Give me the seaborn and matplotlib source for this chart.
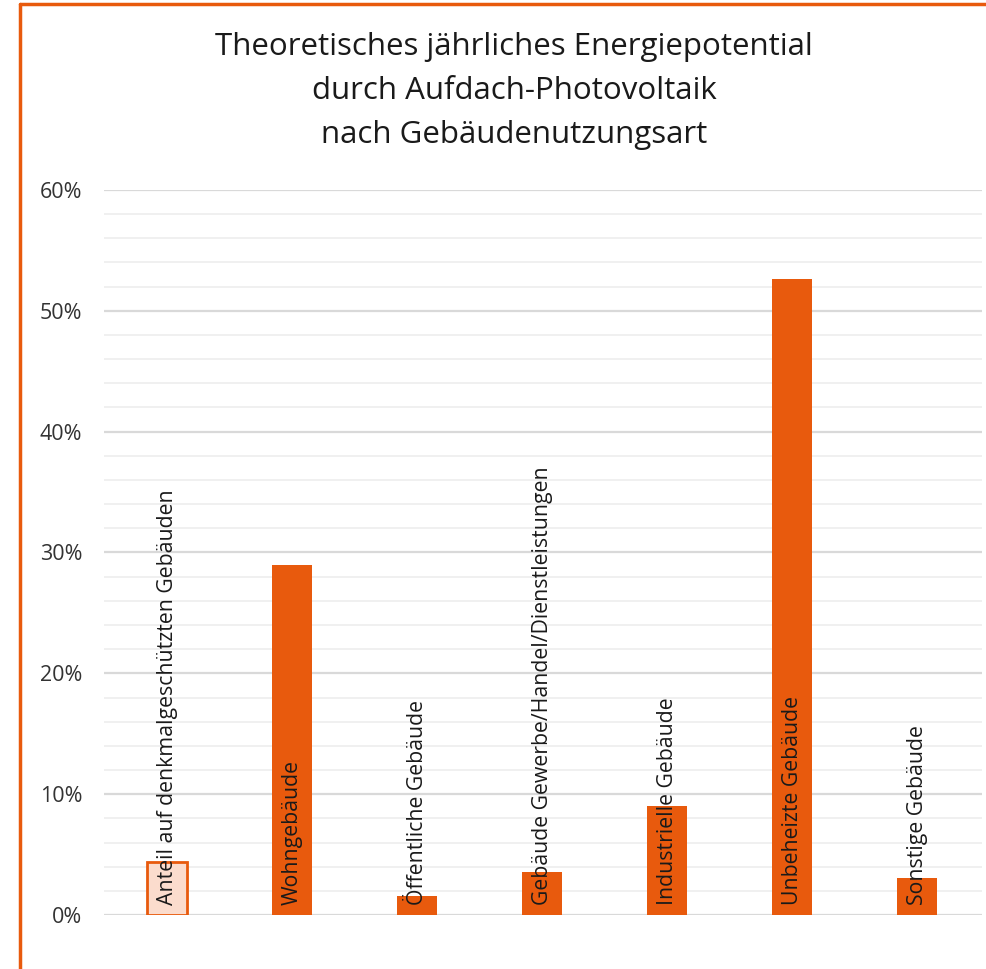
import matplotlib
matplotlib.use("Agg")
import matplotlib.pyplot as plt
from matplotlib.lines import Line2D
from matplotlib.ticker import MultipleLocator, FuncFormatter
import seaborn as sns
import pandas as pd

categories = [
    "Anteil auf denkmalgeschützten Gebäuden",
    "Wohngebäude",
    "Öffentliche Gebäude",
    "Gebäude Gewerbe/Handel/Dienstleistungen",
    "Industrielle Gebäude",
    "Unbeheizte Gebäude",
    "Sonstige Gebäude",
]
shares = [0.044, 0.290, 0.016, 0.036, 0.090, 0.526, 0.031]

title = "Theoretisches jährliches Energiepotential\ndurch Aufdach-Photovoltaik\nnach Gebäudenutzungsart"

ORANGE = "#E85A0D"
LIGHT = "#FBDCCD"

sns.set_theme(style="white")
plt.rcParams["font.family"] = ["Open Sans", "DejaVu Sans"]

W, H = 987, 969
fig = plt.figure(figsize=(W / 100, H / 100), dpi=100)
ax = fig.add_axes([104.5 / W, 54 / H, 878 / W, 725 / H])

df = pd.DataFrame({"cat": categories, "val": shares})
sns.barplot(data=df, x="cat", y="val", color=ORANGE, width=0.32,
            saturation=1, ax=ax, zorder=3)

# first bar: light fill with orange outline
first = ax.patches[0]
first.set_facecolor(LIGHT)
first.set_edgecolor(ORANGE)
first.set_linewidth(2)

for p in ax.patches[1:]:
    p.set_edgecolor("none")

# category names written vertically over the bars
for i, name in enumerate(categories):
    ax.text(i, 0.0085, name, rotation=90, ha="center", va="bottom",
            fontsize=15.3, color="#1a1a1a", zorder=4)

ax.set_ylim(0, 0.6)
ax.set_xlim(-0.5, 6.52)
ax.yaxis.set_major_locator(MultipleLocator(0.1))
ax.yaxis.set_minor_locator(MultipleLocator(0.02))
ax.yaxis.set_major_formatter(FuncFormatter(lambda v, _: f"{v * 100:.0f}%"))
ax.grid(axis="y", which="major", color="#d9d9d9", linewidth=1.6, zorder=0)
ax.grid(axis="y", which="minor", color="#f0f0f0", linewidth=1.4, zorder=0)
ax.set_axisbelow(True)
ax.tick_params(axis="y", which="both", length=0, labelsize=15.5,
               labelcolor="#333333", pad=16)
ax.set_xticks([])
ax.set_xlabel("")
ax.set_ylabel("")
for s in ax.spines.values():
    s.set_visible(False)

fig.text(0.521, 1 - 91 / H, title, ha="center", va="center",
         fontsize=22.5, color="#1a1a1a", linespacing=1.62)

# orange frame along top and left edges
fig.add_artist(Line2D([20 / W, 1], [1 - 4 / H, 1 - 4 / H],
                      transform=fig.transFigure, color=ORANGE, linewidth=2.5))
fig.add_artist(Line2D([20 / W, 20 / W], [0, 1 - 4 / H],
                      transform=fig.transFigure, color=ORANGE, linewidth=2.5))

fig.savefig("out.png", dpi=100, facecolor="white")
